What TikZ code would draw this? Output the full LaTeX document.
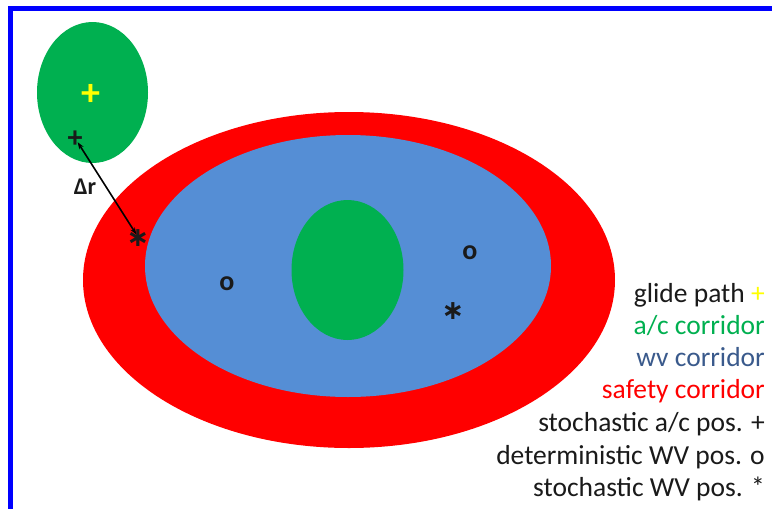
\documentclass[tikz,border=0pt]{standalone}
\usepackage{fontspec}
\setmainfont{Carlito}
\newfontfamily\symfont{DejaVu Sans}
\usetikzlibrary{arrows.meta}
\definecolor{safered}{HTML}{FF0000}
\definecolor{wvblue}{HTML}{558ED5}
\definecolor{acgreen}{HTML}{00B050}
\definecolor{wvtext}{HTML}{3A5A8C}
\definecolor{frameblue}{HTML}{0000FF}
\definecolor{txt}{HTML}{1A1A1A}
\definecolor{gpyellow}{HTML}{FFFF00}
\tikzset{
  legend/.style={anchor=east, inner sep=0pt, font=\fontsize{27.5}{33}\selectfont, text height=0.72em, text depth=0.2em},
  marker/.style={inner sep=0pt, text=txt},
  star/.style={marker, font=\symfont\bfseries\fontsize{27}{27}\selectfont},
}
\begin{document}
\begin{tikzpicture}[x=1pt,y=-1pt]
\useasboundingbox (0,0) rectangle (772,509);
\fill[white] (0,0) rectangle (772,509);
% frame
\fill[frameblue] (8,6) rectangle (772,11);
\fill[frameblue] (8,6) rectangle (13,509);
% corridors
\fill[safered] (349,280) ellipse [x radius=266, y radius=168];
\fill[wvblue] (348,266) ellipse [x radius=203, y radius=131];
\fill[acgreen] (347.5,270) ellipse [x radius=56, y radius=70];
\fill[acgreen] (92.5,92.5) ellipse [x radius=55.5, y radius=70.5];
% markers
\node[marker, text=gpyellow, font=\fontsize{38}{38}\selectfont\bfseries] (gp) at (91,95) {+};
\node[marker, font=\fontsize{30}{30}\selectfont\bfseries] (pA) at (75,139) {+};
\node[star] (pS) at (138,238) {∗};
\node[marker, font=\fontsize{28}{28}\selectfont\bfseries] (o1) at (227,284) {o};
\node[marker, font=\fontsize{28}{28}\selectfont\bfseries] (o2) at (470,253) {o};
\node[star] (s2) at (453,311) {∗};
\coordinate (aStart) at (75,138);
\coordinate (aEnd) at (138,237);
\draw[line width=1.6pt, {Stealth[length=7pt,width=5pt]}-{Stealth[length=7pt,width=5pt]}, shorten <=5pt, shorten >=3pt] (aStart) -- (aEnd);
\node[marker, font=\fontsize{24}{24}\selectfont\bfseries] (dr) at (85,187) {Δr};
% legend
\node[legend, text=txt] (l1) at (765,300) {glide path \textcolor{gpyellow}{+}};
\node[legend, text=acgreen] (l2) at (765,332) {a/c corridor};
\node[legend, text=wvtext] (l3) at (765,364) {wv corridor};
\node[legend, text=safered] (l4) at (765,396) {safety corridor};
\node[legend, text=txt] (l5) at (765,429) {stochastic a/c pos. +};
\node[legend, text=txt] (l6) at (765,462) {deterministic WV pos. o};
\node[legend, text=txt] (l7) at (765,494) {stochastic WV pos. *};
\end{tikzpicture}
\end{document}
